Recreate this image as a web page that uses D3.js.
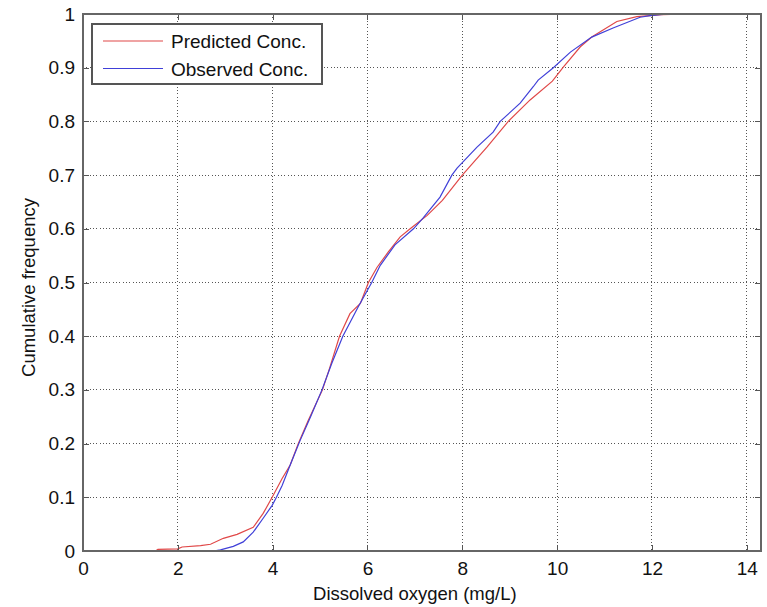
<!DOCTYPE html>
<html>
<head>
<meta charset="utf-8">
<script src="https://d3js.org/d3.v7.min.js"></script>
<style>
    body { margin: 0; background: #fff; }
    svg { font-family: "Liberation Sans", Arial, Helvetica, sans-serif; }
    .grid line { stroke: #555; stroke-dasharray: 1,2.3; shape-rendering: crispEdges; }
    .frame { fill: none; stroke: #666; stroke-width: 1.2; shape-rendering: crispEdges; }
    .tick-in { stroke: #555; shape-rendering: crispEdges; }
    .ticklabel { font-size: 19px; fill: #111; }
    .axlabel { font-size: 18.5px; fill: #111; }
    .curve { fill: none; stroke-width: 1.2; }
</style>
</head>
<body>
<svg id="chart" width="767" height="607"></svg>
<script>
    // cumulative frequency curves: [DO mg/L, cumulative frequency]
    var predicted = [
        [1.53,0],[1.58,0.003],[2.0,0.004],[2.09,0.0075],[2.48,0.01],[2.69,0.0125],
        [2.96,0.0236],[3.25,0.031],[3.59,0.044],[3.80,0.070],[3.99,0.1],[4.2,0.135],
        [4.37,0.16],[4.54,0.2],[4.75,0.243],[5.05,0.3],[5.2,0.34],[5.41,0.4],
        [5.63,0.442],[5.85,0.461],[6.02,0.5],[6.2,0.528],[6.44,0.557],[6.69,0.585],
        [6.9,0.6],[7.26,0.625],[7.58,0.653],[8.0,0.7],[8.25,0.725],[8.52,0.752],
        [8.97,0.8],[9.43,0.84],[9.9,0.875],[10.13,0.901],[10.49,0.939],[10.73,0.957],
        [11.26,0.986],[11.68,0.995],[11.96,0.997],[12.2,0.999],[12.8,1.0]
    ];
    var observed = [
        [2.75,0],[2.9,0.002],[3.17,0.0087],[3.38,0.017],[3.59,0.035],[3.80,0.061],
        [3.99,0.085],[4.08,0.1],[4.2,0.122],[4.37,0.16],[4.58,0.206],[4.8,0.25],
        [5.04,0.3],[5.25,0.35],[5.48,0.4],[5.80,0.454],[6.09,0.5],[6.27,0.532],
        [6.58,0.57],[6.97,0.6],[7.18,0.621],[7.53,0.659],[7.78,0.7],[7.89,0.713],
        [8.31,0.752],[8.65,0.78],[8.8,0.8],[9.22,0.834],[9.5,0.865],[9.6,0.877],
        [9.92,0.9],[10.28,0.929],[10.73,0.957],[11.18,0.974],[11.75,0.994],
        [11.96,0.997],[12.17,0.999],[12.4,1.0]
    ];
    var xTicks = [0, 2, 4, 6, 8, 10, 12, 14];
    var yTicks = [0, 0.1, 0.2, 0.3, 0.4, 0.5, 0.6, 0.7, 0.8, 0.9, 1];
    var seriesNames = ["Predicted Conc.", "Observed Conc."];
    var seriesColors = ["#e04848", "#4040d8"];

    var margin = {top: 14, right: 6, bottom: 56, left: 83},
        W = 767, H = 607,
        width = W - margin.left - margin.right,
        height = H - margin.top - margin.bottom;

    var x = d3.scaleLinear().domain([0, 14.3]).range([0, width]);
    var y = d3.scaleLinear().domain([0, 1]).range([height, 0]);

    var svg = d3.select("#chart")
        .append("g")
        .attr("transform", "translate(" + margin.left + "," + margin.top + ")");

    // dotted grid
    var grid = svg.append("g").attr("class", "grid");
    grid.selectAll(".gx").data(xTicks.filter(function(d) { return d > 0; }))
        .enter().append("line")
        .attr("x1", function(d) { return x(d); }).attr("x2", function(d) { return x(d); })
        .attr("y1", 0).attr("y2", height);
    grid.selectAll(".gy").data(yTicks.filter(function(d) { return d > 0 && d < 1; }))
        .enter().append("line")
        .attr("x1", 0).attr("x2", width)
        .attr("y1", function(d) { return y(d); }).attr("y2", function(d) { return y(d); });

    // curves
    var line = d3.line().x(function(d) { return x(d[0]); }).y(function(d) { return y(d[1]); });
    [predicted, observed].forEach(function(s, i) {
        svg.append("path").datum(s)
            .attr("class", "curve")
            .attr("stroke", seriesColors[i])
            .attr("d", line);
    });

    // axes: inward ticks on every side, like matlab
    var tl = 6;
    var xb = d3.axisBottom(x).tickValues(xTicks).tickSize(-tl).tickPadding(8).tickFormat(d3.format("d"));
    var xt = d3.axisTop(x).tickValues(xTicks).tickSize(-tl).tickFormat("");
    var yl = d3.axisLeft(y).tickValues(yTicks).tickSize(-tl).tickPadding(8).tickFormat(function(d) { return d === 0 || d === 1 ? d : d3.format(".1f")(d); });
    var yr = d3.axisRight(y).tickValues(yTicks).tickSize(-tl).tickFormat("");

    function style(g) {
        g.select(".domain").remove();
        g.selectAll(".tick line").attr("class", "tick-in");
        g.selectAll(".tick text").attr("class", "ticklabel").attr("font-family", null).attr("font-size", null);
        g.attr("font-family", null).attr("font-size", null);
    }
    svg.append("g").attr("transform", "translate(0," + height + ")").call(xb).call(style)
        .selectAll(".tick text").attr("dy", "0.85em");
    svg.append("g").call(xt).call(style);
    svg.append("g").call(yl).call(style);
    svg.append("g").attr("transform", "translate(" + width + ",0)").call(yr).call(style);

    svg.append("rect").attr("class", "frame")
        .attr("x", 0).attr("y", 0).attr("width", width).attr("height", height);

    // axis titles
    svg.append("text").attr("class", "axlabel")
        .attr("x", x(7)).attr("y", height + 49)
        .attr("text-anchor", "middle")
        .text("Dissolved oxygen (mg/L)");
    svg.append("text").attr("class", "axlabel")
        .attr("transform", "translate(" + (35 - margin.left) + "," + (height / 2 + 5) + ") rotate(-90)")
        .attr("text-anchor", "middle")
        .text("Cumulative frequency");

    // legend
    var lg = svg.append("g").attr("transform", "translate(9,10)");
    lg.append("rect").attr("width", 230).attr("height", 60)
        .attr("fill", "#fff").attr("stroke", "#555").attr("stroke-width", 1.2)
        .attr("shape-rendering", "crispEdges");
    seriesNames.forEach(function(name, i) {
        var yy = 17 + i * 27.5;
        lg.append("line").attr("x1", 11).attr("x2", 71).attr("y1", yy).attr("y2", yy)
            .attr("stroke", seriesColors[i]).attr("stroke-width", 1.2);
        lg.append("text").attr("class", "ticklabel").attr("x", 79).attr("y", yy + 7)
            .text(name);
    });
</script>
</body>
</html>
